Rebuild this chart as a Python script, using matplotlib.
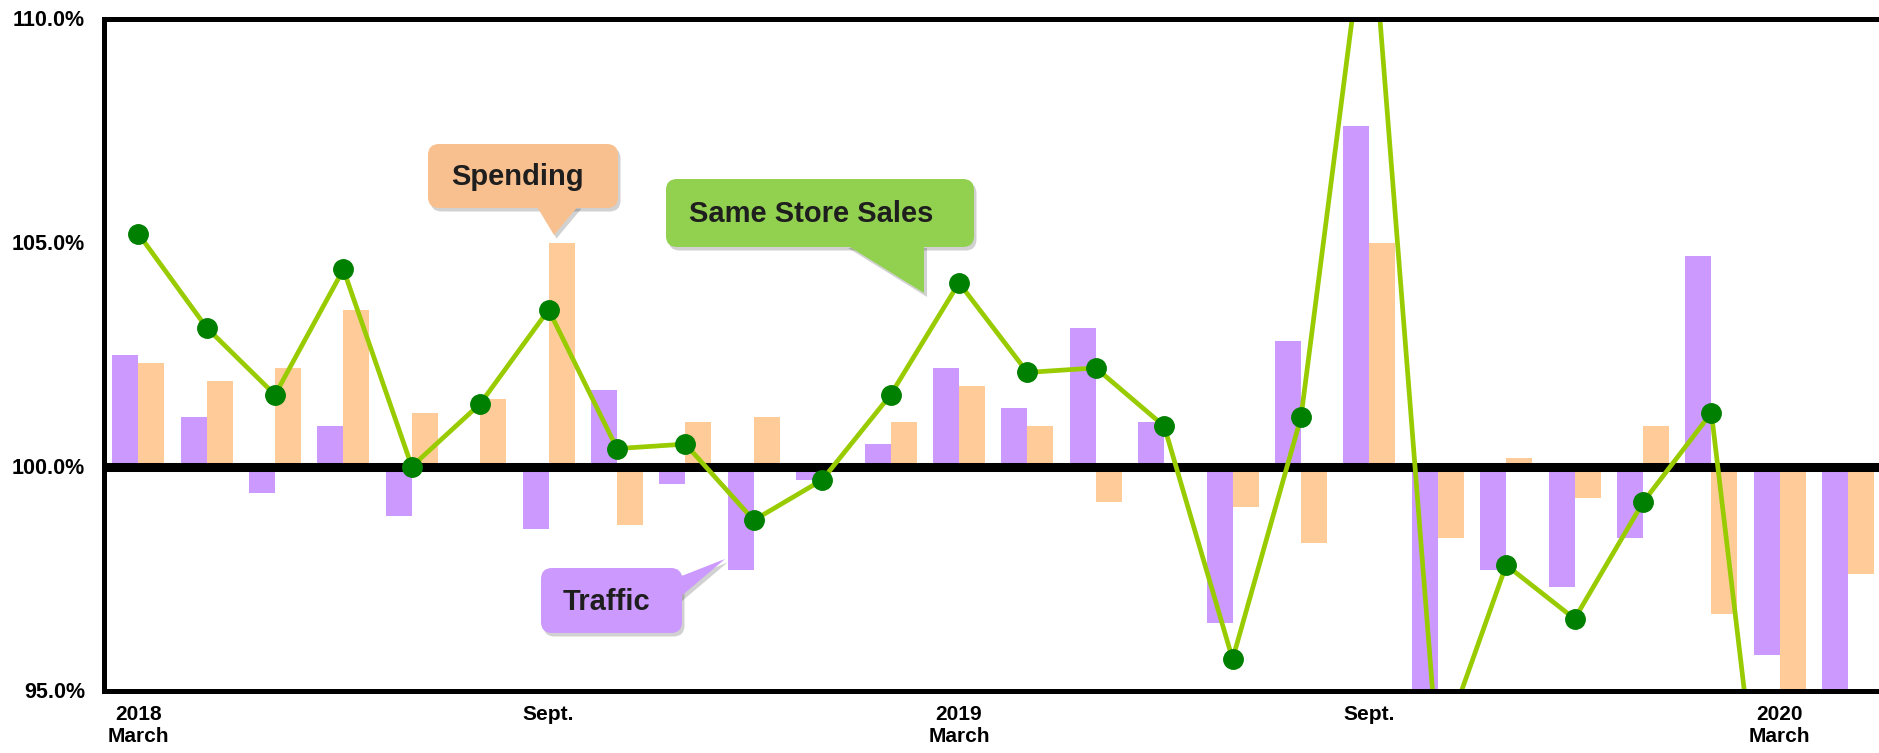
import matplotlib
matplotlib.use("Agg")
import matplotlib.pyplot as plt
import numpy as np
from matplotlib.patches import FancyBboxPatch, Polygon

plt.rcParams['font.family'] = ['Liberation Sans', 'DejaVu Sans']

# ---------------- data ----------------
months = ["2018-03", "2018-04", "2018-05", "2018-06", "2018-07", "2018-08",
          "2018-09", "2018-10", "2018-11", "2018-12", "2019-01", "2019-02",
          "2019-03", "2019-04", "2019-05", "2019-06", "2019-07", "2019-08",
          "2019-09", "2019-10", "2019-11", "2019-12", "2020-01", "2020-02",
          "2020-03", "2020-04"]
traffic = [102.5, 101.1, 99.4, 100.9, 98.9, 100.0, 98.6, 101.7, 99.6, 97.7,
           99.7, 100.5, 102.2, 101.3, 103.1, 101.0, 96.5, 102.8, 107.6, 94.0,
           97.7, 97.3, 98.4, 104.7, 95.8, 94.0]
spending = [102.3, 101.9, 102.2, 103.5, 101.2, 101.5, 105.0, 98.7, 101.0, 101.1,
            100.0, 101.0, 101.8, 100.9, 99.2, 100.0, 99.1, 98.3, 105.0, 98.4,
            100.2, 99.3, 100.9, 96.7, 94.0, 97.6]
same_store_sales = [105.2, 103.1, 101.6, 104.4, 100.0, 101.4, 103.5, 100.4, 100.5,
                    98.8, 99.7, 101.6, 104.1, 102.1, 102.2, 100.9, 95.7, 101.1,
                    113.0, 93.5, 97.8, 96.6, 99.2, 101.2, 88.3, 90.0]
tick_positions = [0, 6, 12, 18, 24]
tick_labels = ["2018\nMarch", "Sept.", "2019\nMarch", "Sept.", "2020\nMarch"]
y_ticks = [95, 100, 105, 110]

C_TRAFFIC = '#CC99FF'
C_SPEND = '#FFCC99'
C_LINE = '#99CC00'
C_MARK = '#008000'

W, H = 1879, 753
fig = plt.figure(figsize=(W / 100, H / 100), dpi=100)

# axes placed in pixel terms
left_px, right_px, top_px, bot_px = 104, 1882.4, 18.5, 690.5
ax = fig.add_axes([left_px / W, (H - bot_px) / H, (right_px - left_px) / W,
                   (bot_px - top_px) / H])

x = np.arange(len(months))
w = 0.38
ax.bar(x - w / 2, np.array(traffic) - 100, w, bottom=100, color=C_TRAFFIC,
       zorder=2, linewidth=0)
ax.bar(x + w / 2, np.array(spending) - 100, w, bottom=100, color=C_SPEND,
       zorder=2, linewidth=0)
ax.axhline(100, color='black', lw=6.5, zorder=3)
ax.plot(x, same_store_sales, color=C_LINE, lw=3.4, marker='o', ms=14,
        mfc=C_MARK, mec=C_MARK, zorder=4)

ax.set_xlim(-0.5, 25.5)
ax.set_ylim(95, 110)
ax.set_yticks(y_ticks)
ax.set_yticklabels([f"{v:.1f}%" for v in y_ticks])
ax.set_xticks(tick_positions)
ax.set_xticklabels(tick_labels)
ax.tick_params(axis='both', length=0)
ax.tick_params(axis='y', pad=13.5, labelsize=15.5)
ax.tick_params(axis='x', pad=10.5, labelsize=15)
for lab in ax.get_xticklabels() + ax.get_yticklabels():
    lab.set_fontweight('bold')
    lab.set_color('black')

for s in ['top', 'left', 'bottom']:
    ax.spines[s].set_linewidth(3.6)
    ax.spines[s].set_color('black')
    ax.spines[s].set_zorder(5)
ax.spines['right'].set_visible(False)


# ---------------- callouts (pixel coords, top-left origin) ----------------
def P(px, py):
    return (px / 100.0, (H - py) / 100.0)


def callout(box, pointer, color, text, text_xy):
    x0, y0, x1, y1 = box
    bx, by = P(x0, y1)
    bw, bh = (x1 - x0) / 100.0, (y1 - y0) / 100.0
    pts = [P(*p) for p in pointer]
    sh = (0.025, -0.035)
    # shadows
    fig.add_artist(FancyBboxPatch((bx + sh[0], by + sh[1]), bw, bh,
                                  boxstyle="round,pad=0,rounding_size=0.11",
                                  transform=fig.dpi_scale_trans,
                                  facecolor='black', alpha=0.18,
                                  edgecolor='none', zorder=10))
    fig.add_artist(Polygon([(a + sh[0], b + sh[1]) for a, b in pts], closed=True,
                           transform=fig.dpi_scale_trans, facecolor='black',
                           alpha=0.18, edgecolor='none', zorder=10))
    fig.add_artist(FancyBboxPatch((bx, by), bw, bh,
                                  boxstyle="round,pad=0,rounding_size=0.11",
                                  transform=fig.dpi_scale_trans,
                                  facecolor=color, edgecolor='none', zorder=11))
    fig.add_artist(Polygon(pts, closed=True, transform=fig.dpi_scale_trans,
                           facecolor=color, edgecolor='none', zorder=11))
    tx, ty = P(*text_xy)
    fig.text(tx, ty, text, transform=fig.dpi_scale_trans, ha='left',
             va='baseline', fontsize=21, fontweight='bold', color='#1E1E1E',
             zorder=12)


callout((428, 144, 618, 208), [(536, 205), (579, 205), (554, 235)],
        '#F9C08F', "Spending", (451, 185))
callout((666, 179, 974, 247), [(845, 244), (924, 244), (924, 293)],
        '#92D050', "Same Store Sales", (689, 222))
callout((541, 568, 682, 633), [(679, 577), (679, 598), (725, 559)],
        C_TRAFFIC, "Traffic", (563, 610))

fig.savefig("out.png", dpi=100)
